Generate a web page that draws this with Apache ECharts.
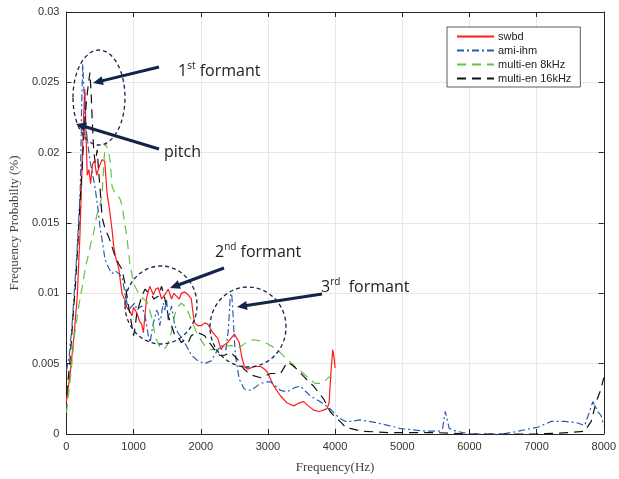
<!DOCTYPE html>
<html><head><meta charset="utf-8">
<script src="https://cdn.jsdelivr.net/npm/echarts@6/dist/echarts.min.js"></script>
<style>html,body{margin:0;padding:0;background:#fff}#c{width:619px;height:479px}</style>
</head><body><div id="c"></div>
<script>
// ---- data ----
var xTicks = [0,1000,2000,3000,4000,5000,6000,7000,8000];
var yTicks = [0,0.005,0.01,0.015,0.02,0.025,0.03];
var seriesNames = ['swbd','ami-ihm','multi-en 8kHz','multi-en 16kHz'];

var swbdHz = [0,60,113,162,200,230,255,275,292,310,335,360,390,420,450,480,530,570,605,640,680,705,730,778,827,872,900,945,974,1000,1048,1090,1122,1146,1170,1195,1240,1269,1294,1330,1368,1417,1466,1516,1565,1600,1638,1680,1712,1761,1811,1860,1884,1909,1958,2007,2060,2106,2180,2254,2303,2340,2400,2450,2500,2524,2573,2610,2647,2700,2745,2800,2893,2950,2991,3040,3090,3188,3287,3385,3460,3532,3600,3680,3760,3828,3880,3910,3940,3965,3985,4000];
var swbdVal = [0.0023,0.0045,0.007,0.0098,0.014,0.0185,0.0225,0.0245,0.0212,0.0184,0.0188,0.0178,0.0192,0.0194,0.0184,0.0189,0.0195,0.0194,0.0171,0.016,0.0145,0.0133,0.0126,0.0118,0.01,0.0095,0.009,0.0087,0.0084,0.009,0.0086,0.008,0.0078,0.0072,0.0085,0.0097,0.0105,0.0104,0.0099,0.0103,0.0104,0.0096,0.0099,0.0103,0.0096,0.01,0.0098,0.0096,0.01,0.0101,0.0099,0.0096,0.0086,0.0079,0.0077,0.0077,0.0079,0.0078,0.0072,0.0068,0.006,0.0063,0.0065,0.0068,0.0071,0.007,0.0065,0.0055,0.0048,0.0046,0.0047,0.0048,0.0048,0.0046,0.0044,0.0039,0.0034,0.0027,0.0022,0.002,0.0022,0.0023,0.002,0.0017,0.0016,0.0017,0.0018,0.0022,0.0045,0.006,0.0054,0.0047];

var amiHz = [0,40,80,113,162,207,225,243,260,280,310,330,355,390,430,470,500,531,575,630,679,730,778,827,872,925,974,1020,1048,1090,1122,1170,1220,1245,1294,1343,1365,1390,1417,1442,1466,1490,1516,1540,1565,1614,1660,1761,1860,1958,2057,2155,2229,2303,2376,2410,2440,2460,2480,2500,2524,2573,2647,2745,2893,2991,3040,3188,3287,3400,3483,3631,3779,3926,4000,4074,4150,4250,4370,4500,4616,4800,4960,5150,5354,5550,5600,5640,5670,5700,5800,6000,6200,6485,6730,7026,7220,7420,7600,7715,7789,7838,7870,7911,7960,8000];
var amiVal = [0.0045,0.0055,0.0075,0.0098,0.0133,0.0175,0.023,0.0263,0.0245,0.0223,0.021,0.0202,0.0193,0.0185,0.0174,0.016,0.0147,0.0138,0.0124,0.0118,0.0114,0.0116,0.0114,0.0112,0.01,0.0088,0.0091,0.0093,0.0088,0.009,0.0091,0.0084,0.007,0.0065,0.0079,0.0088,0.0086,0.0077,0.0086,0.0093,0.0088,0.0096,0.0081,0.0086,0.0091,0.0077,0.0072,0.0065,0.0056,0.0052,0.005,0.0052,0.0058,0.0063,0.006,0.0074,0.0098,0.01,0.0086,0.0067,0.0053,0.0039,0.0032,0.0031,0.0036,0.0037,0.0037,0.0031,0.003,0.0033,0.0034,0.0027,0.0023,0.0018,0.0014,0.0011,0.0009,0.0009,0.001,0.0009,0.0008,0.0006,0.0004,0.0003,0.0002,0.0002,0.0004,0.0016,0.001,0.0004,0.0002,0,0,0,0.0002,0.0005,0.0009,0.0009,0.0008,0.0006,0.0016,0.0023,0.002,0.0016,0.0013,0.0006];

var en8Hz = [0,60,120,180,236,285,330,360,400,450,500,531,560,580,605,630,654,679,715,753,790,827,860,900,945,1000,1073,1122,1200,1269,1330,1400,1450,1500,1560,1614,1670,1712,1786,1860,1958,2057,2155,2254,2350,2450,2549,2620,2700,2795,2900,3000,3138,3287,3400,3483,3600,3700,3800,3877,3926,3960,4000];
var en8Val = [0.0015,0.004,0.007,0.009,0.0105,0.0119,0.0128,0.0135,0.0142,0.0155,0.0163,0.017,0.0195,0.0207,0.0208,0.02,0.0193,0.0176,0.0172,0.0169,0.0168,0.0163,0.0152,0.014,0.0121,0.0107,0.01,0.0097,0.0094,0.0083,0.0068,0.0061,0.006,0.0063,0.0072,0.0085,0.0091,0.0093,0.009,0.0081,0.007,0.0063,0.006,0.006,0.0062,0.0063,0.0061,0.0063,0.0066,0.0067,0.0066,0.0064,0.006,0.0053,0.0048,0.0045,0.004,0.0036,0.0036,0.0039,0.0041,0.004,0.0036];

var en16Hz = [0,50,100,133,170,207,240,270,300,330,350,370,384,408,430,458,482,500,531,580,630,679,727,778,827,872,925,974,1000,1020,1048,1122,1170,1230,1269,1300,1368,1417,1466,1516,1565,1614,1660,1712,1761,1811,1860,1958,2057,2130,2205,2274,2352,2450,2549,2647,2745,2893,3040,3188,3287,3360,3434,3532,3680,3828,3926,4000,4074,4172,4222,4400,4800,5500,6000,6500,7000,7500,7715,7813,7887,7960,8000];
var en16Val = [0.0028,0.005,0.0085,0.0105,0.0135,0.0168,0.0195,0.022,0.0238,0.025,0.0257,0.024,0.0223,0.02,0.0193,0.0202,0.0185,0.0175,0.0154,0.0145,0.014,0.0133,0.0126,0.0121,0.0117,0.0107,0.0091,0.0077,0.007,0.0075,0.0086,0.0098,0.0103,0.01,0.0099,0.0096,0.0098,0.0105,0.0096,0.0084,0.0077,0.007,0.0069,0.0065,0.0067,0.0065,0.007,0.0072,0.007,0.0065,0.006,0.0056,0.0056,0.0058,0.0053,0.0046,0.0042,0.004,0.0043,0.0043,0.0051,0.0049,0.0046,0.0041,0.0034,0.0025,0.0016,0.0012,0.0009,0.0004,0.0004,0.0002,0.0001,0.0001,0,0,0,0.0001,0.0002,0.0009,0.0023,0.0032,0.004];

function zip(a,b){ return a.map(function(x,i){ return [x,b[i]]; }); }

// ---- chart ----
var chart = echarts.init(document.getElementById('c'), null, {renderer:'canvas'});
var axisCol = '#262626';
var labelFont = {fontFamily:'Liberation Sans', fontSize:11, color:'#333'};

function lineSeries(name, data, color, type, width){
  return {name:name, type:'line', data:data, showSymbol:false, symbol:'none', animation:false,
    xAxisIndex:0, yAxisIndex:0,
    lineStyle:{color:color, width:width, type:type}, itemStyle:{color:color}};
}

var annColor = '#13244a';
var ann = {
  ellipses: [[99,97.5,26,47.5],[161,305,36,39],[248,327,38,40]],
  arrows: [[159,67,93,83],[159,149,76,124],[224,268,170,288],[322,294,237,307]]
};
var graphics = [];
ann.ellipses.forEach(function(e){
  graphics.push({type:'ellipse', shape:{cx:e[0],cy:e[1],rx:e[2],ry:e[3]}, z:100,
    style:{fill:null, stroke:annColor, lineWidth:1.3, lineDash:[4,3]}});
});
ann.arrows.forEach(function(a){
  var dx=a[2]-a[0], dy=a[3]-a[1], L=Math.sqrt(dx*dx+dy*dy), ux=dx/L, uy=dy/L;
  var hl=10, hw=4.5;
  var bx=a[2]-ux*hl, by=a[3]-uy*hl;
  graphics.push({type:'line', shape:{x1:a[0],y1:a[1],x2:bx+ux*2,y2:by+uy*2}, z:100,
    style:{stroke:annColor, lineWidth:3}});
  graphics.push({type:'polygon', z:100, shape:{points:[[a[2],a[3]],[bx-uy*hw,by+ux*hw],[bx+uy*hw,by-ux*hw]]},
    style:{fill:annColor}});
});
var annFont = 'Open Sans';
function annText(x,y,parts){
  graphics.push({type:'text', x:x, y:y, z:100, style:{
    text:parts, fill:'#222', font:'16px "'+annFont+'"', verticalAlign:'middle',
    rich:{
      n:{fontFamily:annFont, fontSize:16, fill:'#222', color:'#222'},
      s:{fontFamily:annFont, fontSize:10, fill:'#222', color:'#222', padding:[0,0,10,0]}
    }}});
}
annText(178,71,'{n|1}{s|st}{n| formant}');
annText(164,152,'{n|pitch}');
annText(215,252,'{n|2}{s|nd}{n| formant}');
annText(321,287,'{n|3}{s|rd}{n|  formant}');

var option = {
  backgroundColor:'#fff',
  animation:false,
  grid:{left:64, right:13, top:12, bottom:40, containLabel:false},
  legend:{
    data:seriesNames, orient:'vertical', left:447, top:27,
    backgroundColor:'#fff', borderColor:'#333', borderWidth:0.8,
    padding:[4,9,3,9], itemGap:3, itemWidth:37, itemHeight:11,
    itemStyle:{opacity:0},
    textStyle:{fontFamily:'Liberation Sans', fontSize:11, color:'#222', padding:[0,0,0,-1]}
  },
  xAxis:[{
    type:'value', min:0, max:8000, interval:1000, position:'bottom',
    name:'Frequency(Hz)', nameLocation:'middle', nameGap:27,
    nameTextStyle:{fontFamily:'Liberation Serif', fontSize:13, color:'#404040'},
    axisLine:{show:true, onZero:false, lineStyle:{color:axisCol, width:1}},
    axisTick:{show:true, inside:true, length:5, lineStyle:{color:axisCol}},
    axisLabel:Object.assign({margin:7, formatter:function(v){ return String(v); }}, labelFont),
    splitLine:{show:true, lineStyle:{color:'#e8e8e8', width:1}}
  },{
    type:'value', min:0, max:8000, interval:1000, position:'top',
    axisLine:{show:true, onZero:false, lineStyle:{color:axisCol, width:1}},
    axisTick:{show:true, inside:true, length:5, lineStyle:{color:axisCol}},
    axisLabel:{show:false}, splitLine:{show:false}
  }],
  yAxis:[{
    type:'value', min:0, max:0.03, interval:0.005, position:'left',
    name:'Frequency Probabilty (%)', nameLocation:'middle', nameGap:31,
    nameTextStyle:{fontFamily:'Liberation Serif', fontSize:13, color:'#404040'},
    axisLine:{show:true, onZero:false, lineStyle:{color:axisCol, width:1}},
    axisTick:{show:true, inside:true, length:5, lineStyle:{color:axisCol}},
    axisLabel:Object.assign({margin:7, formatter:function(v){ return String(+v.toFixed(3)); }}, labelFont),
    splitLine:{show:true, lineStyle:{color:'#e8e8e8', width:1}}
  },{
    type:'value', min:0, max:0.03, interval:0.005, position:'right',
    axisLine:{show:true, onZero:false, lineStyle:{color:axisCol, width:1}},
    axisTick:{show:true, inside:true, length:5, lineStyle:{color:axisCol}},
    axisLabel:{show:false}, splitLine:{show:false}
  }],
  series:[
    lineSeries(seriesNames[0], zip(swbdHz, swbdVal), '#ff1a1a', 'solid', 1.2),
    lineSeries(seriesNames[1], zip(amiHz, amiVal), '#2a5cb5', [7,3,2,3], 1.2),
    lineSeries(seriesNames[2], zip(en8Hz, en8Val), '#66c244', [9,6], 1.2),
    lineSeries(seriesNames[3], zip(en16Hz, en16Val), '#111111', [9,6], 1.2)
  ],
  graphic:graphics
};
chart.setOption(option);
</script>
</body></html>
